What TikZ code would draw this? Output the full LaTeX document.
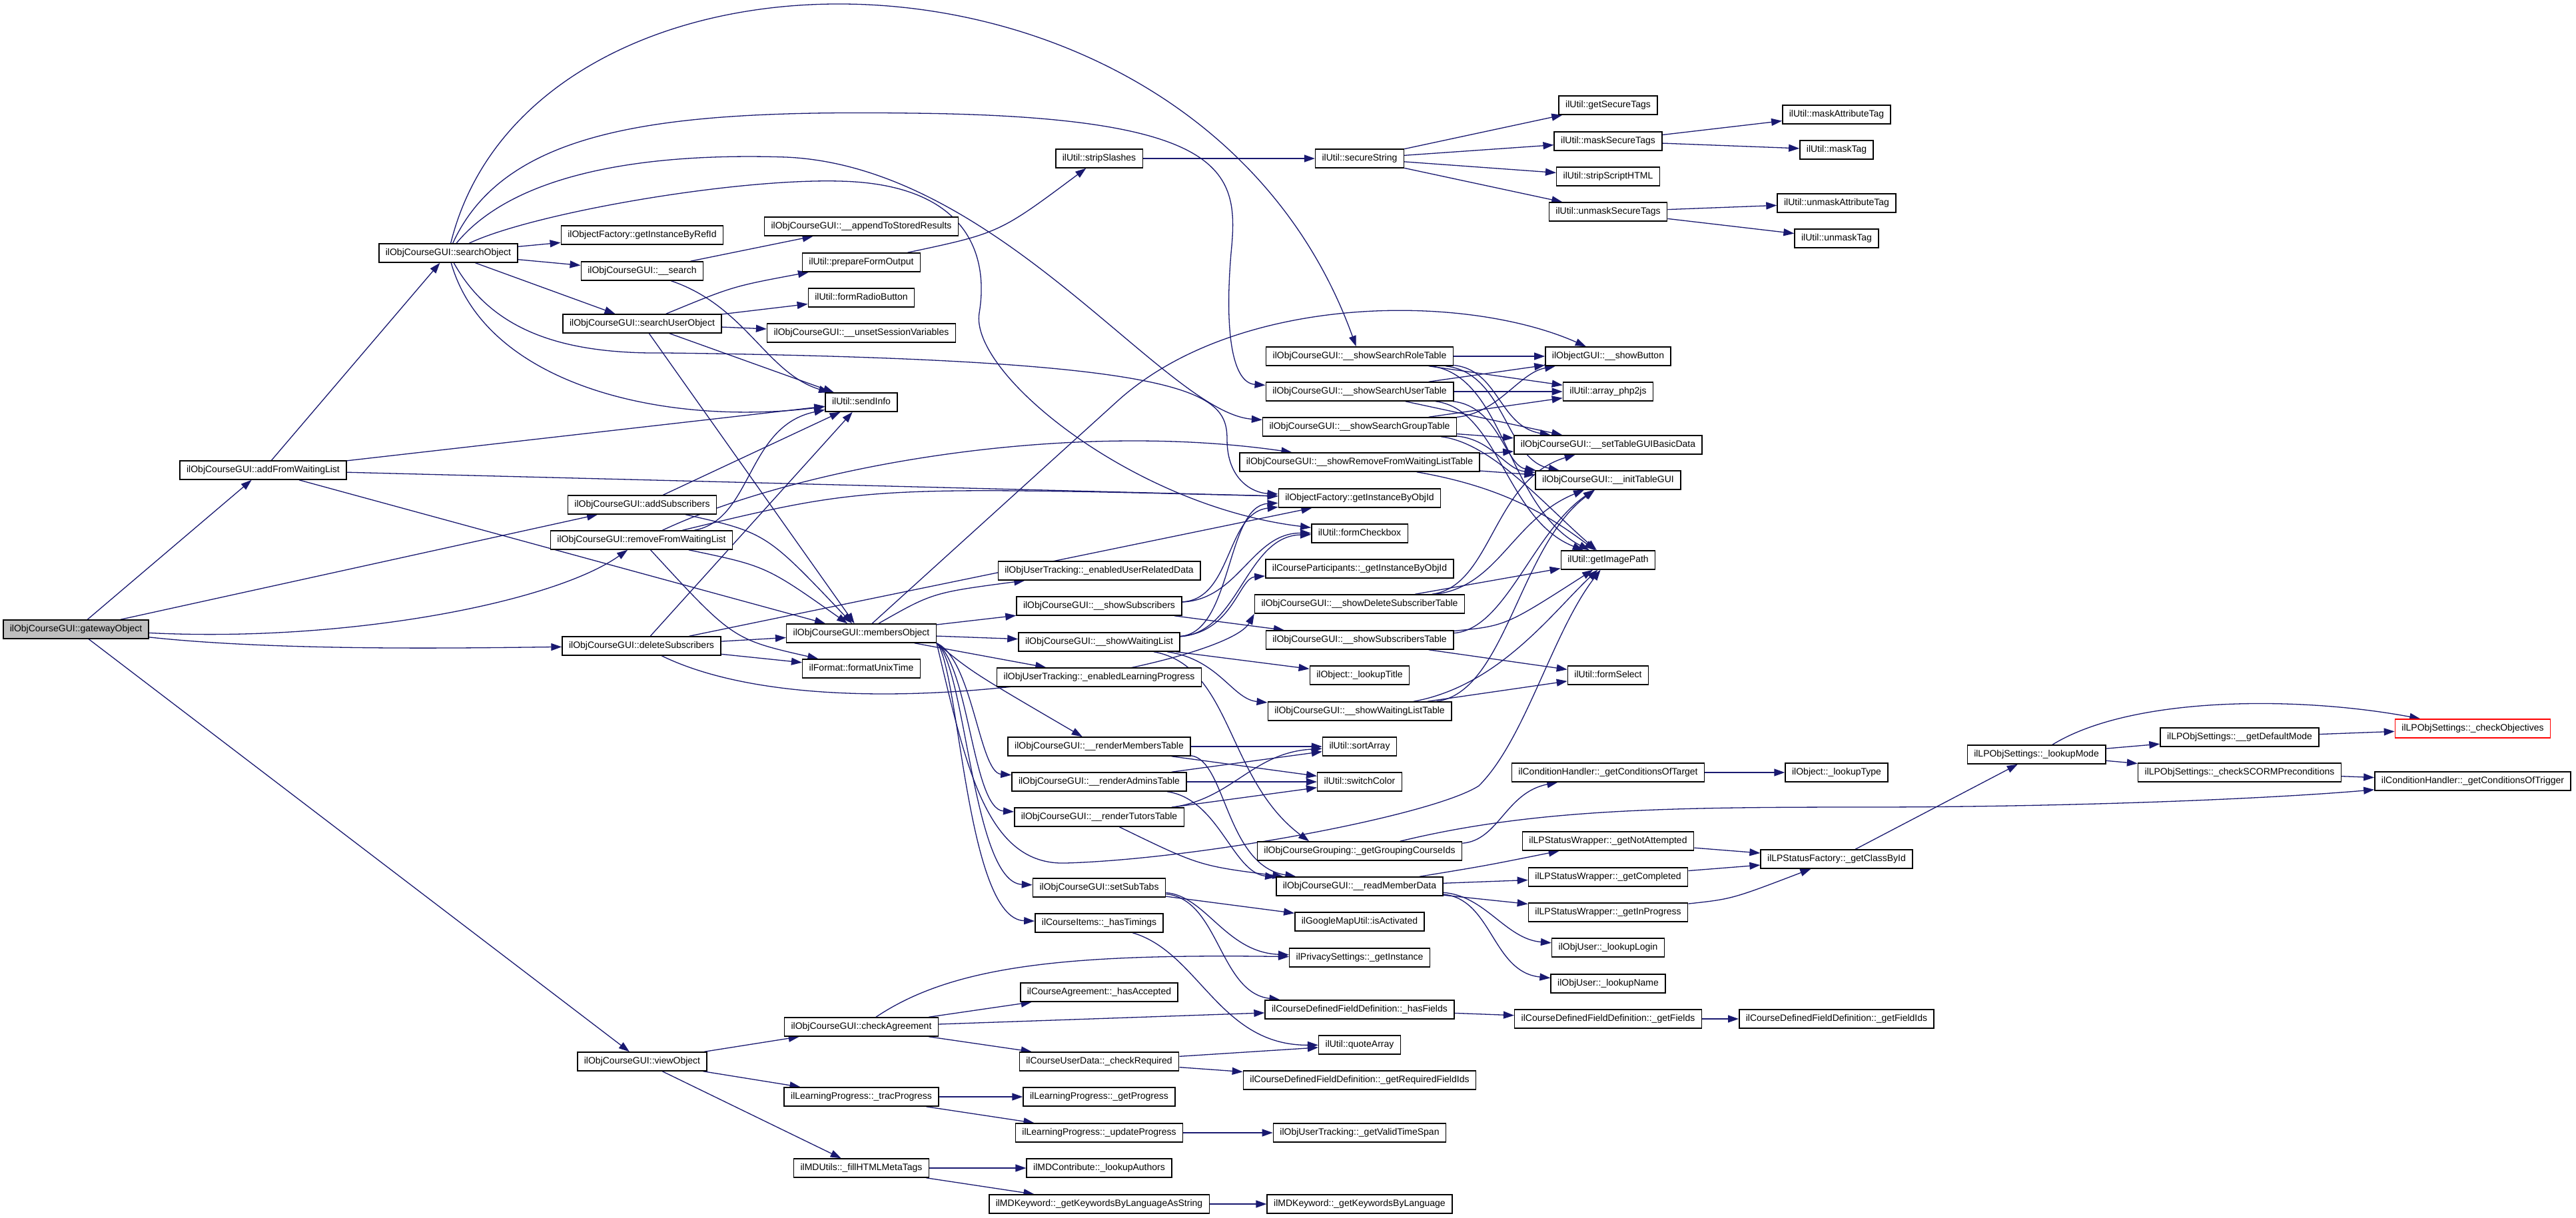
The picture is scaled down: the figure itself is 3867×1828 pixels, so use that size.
\documentclass[tikz,border=0pt]{standalone}
\usepackage{fontspec}
\setmainfont{Liberation Sans}
\usepackage{xcolor}
\usetikzlibrary{arrows.meta, backgrounds}

\definecolor{callblue}{HTML}{191970}
\definecolor{rootgray}{HTML}{BFBFBF}

\begin{document}
\begin{tikzpicture}[x=1pt, y=-1pt,
    fn/.style={draw, line width=1.5pt, fill=white, minimum height=28pt, inner xsep=10pt, inner ysep=0pt,
               text height=10.5pt, text depth=3pt, font=\fontsize{14}{16}\selectfont},
    root/.style={fn, fill=rootgray},
    trunc/.style={fn, draw=red},
    call/.style={draw=callblue, line width=1.3pt, -{Triangle[length=16pt, width=11pt]}}
]
    \useasboundingbox (0,0) rectangle (3867,1828);

    % Caller
    \node[root] (gateway) at (114,945) {ilObjCourseGUI::gatewayObject};

    % Direct calls
    \node[fn] (addWait) at (395,706) {ilObjCourseGUI::addFromWaitingList};
    \node[fn] (searchObj) at (673,380) {ilObjCourseGUI::searchObject};
    \node[fn] (objFactRef) at (964,353) {ilObjectFactory::getInstanceByRefId};
    \node[fn] (search) at (964,407) {ilObjCourseGUI::\_\_search};
    \node[fn] (searchUser) at (964,486) {ilObjCourseGUI::searchUserObject};
    \node[fn] (addSubs) at (964,758) {ilObjCourseGUI::addSubscribers};
    \node[fn] (removeWait) at (963,811) {ilObjCourseGUI::removeFromWaitingList};
    \node[fn] (deleteSubs) at (963,970) {ilObjCourseGUI::deleteSubscribers};
    \node[fn] (viewObj) at (964,1594) {ilObjCourseGUI::viewObject};

    % Column 4
    \node[fn] (appendStored) at (1293,340) {ilObjCourseGUI::\_\_appendToStoredResults};
    \node[fn] (prepareForm) at (1293,394) {ilUtil::prepareFormOutput};
    \node[fn] (radioButton) at (1293,447) {ilUtil::formRadioButton};
    \node[fn] (unsetSession) at (1293,500) {ilObjCourseGUI::\_\_unsetSessionVariables};
    \node[fn] (sendInfo) at (1293,604) {ilUtil::sendInfo};
    \node[fn] (membersObj) at (1293,951) {ilObjCourseGUI::membersObject};
    \node[fn] (formatUnix) at (1293,1004) {ilFormat::formatUnixTime};
    \node[fn] (checkAgree) at (1293,1542) {ilObjCourseGUI::checkAgreement};
    \node[fn] (tracProg) at (1293,1647) {ilLearningProgress::\_tracProgress};
    \node[fn] (fillMeta) at (1293,1754) {ilMDUtils::\_fillHTMLMetaTags};

    % Column 5
    \node[fn] (stripSlashes) at (1650,238) {ilUtil::stripSlashes};
    \node[fn] (userRelated) at (1650,857) {ilObjUserTracking::\_enabledUserRelatedData};
    \node[fn] (showSubs) at (1650,910) {ilObjCourseGUI::\_\_showSubscribers};
    \node[fn] (showWait) at (1650,964) {ilObjCourseGUI::\_\_showWaitingList};
    \node[fn] (learningProg) at (1650,1017) {ilObjUserTracking::\_enabledLearningProgress};
    \node[fn] (renderMembers) at (1650,1121) {ilObjCourseGUI::\_\_renderMembersTable};
    \node[fn] (renderAdmins) at (1650,1174) {ilObjCourseGUI::\_\_renderAdminsTable};
    \node[fn] (renderTutors) at (1650,1227) {ilObjCourseGUI::\_\_renderTutorsTable};
    \node[fn] (setSubTabs) at (1650,1333) {ilObjCourseGUI::setSubTabs};
    \node[fn] (hasTimings) at (1650,1386) {ilCourseItems::\_hasTimings};
    \node[fn] (hasAccepted) at (1650,1490) {ilCourseAgreement::\_hasAccepted};
    \node[fn] (checkRequired) at (1650,1594) {ilCourseUserData::\_checkRequired};
    \node[fn] (getProg) at (1650,1647) {ilLearningProgress::\_getProgress};
    \node[fn] (updateProg) at (1650,1701) {ilLearningProgress::\_updateProgress};
    \node[fn] (lookupAuthors) at (1650,1754) {ilMDContribute::\_lookupAuthors};
    \node[fn] (keywordsStr) at (1650,1808) {ilMDKeyword::\_getKeywordsByLanguageAsString};

    % Column 6
    \node[fn] (secureString) at (2041,238) {ilUtil::secureString};
    \node[fn] (showRoleTab) at (2041,535) {ilObjCourseGUI::\_\_showSearchRoleTable};
    \node[fn] (showUserTab) at (2041,588) {ilObjCourseGUI::\_\_showSearchUserTable};
    \node[fn] (showGroupTab) at (2041,641) {ilObjCourseGUI::\_\_showSearchGroupTable};
    \node[fn] (showRemoveTab) at (2041,694) {ilObjCourseGUI::\_\_showRemoveFromWaitingListTable};
    \node[fn] (objFactObj) at (2041,748) {ilObjectFactory::getInstanceByObjId};
    \node[fn] (formCheckbox) at (2041,801) {ilUtil::formCheckbox};
    \node[fn] (participants) at (2041,854) {ilCourseParticipants::\_getInstanceByObjId};
    \node[fn] (showDelTab) at (2041,907) {ilObjCourseGUI::\_\_showDeleteSubscriberTable};
    \node[fn] (showSubsTab) at (2041,961) {ilObjCourseGUI::\_\_showSubscribersTable};
    \node[fn] (lookupTitle) at (2041,1014) {ilObject::\_lookupTitle};
    \node[fn] (showWaitTab) at (2041,1068) {ilObjCourseGUI::\_\_showWaitingListTable};
    \node[fn] (sortArray) at (2041,1121) {ilUtil::sortArray};
    \node[fn] (switchColor) at (2041,1174) {ilUtil::switchColor};
    \node[fn] (groupingIds) at (2041,1278) {ilObjCourseGrouping::\_getGroupingCourseIds};
    \node[fn] (readMember) at (2041,1331) {ilObjCourseGUI::\_\_readMemberData};
    \node[fn] (mapActive) at (2041,1384) {ilGoogleMapUtil::isActivated};
    \node[fn] (privacy) at (2041,1438) {ilPrivacySettings::\_getInstance};
    \node[fn] (hasFields) at (2041,1516) {ilCourseDefinedFieldDefinition::\_hasFields};
    \node[fn] (quoteArray) at (2041,1569) {ilUtil::quoteArray};
    \node[fn] (reqFieldIds) at (2041,1622) {ilCourseDefinedFieldDefinition::\_getRequiredFieldIds};
    \node[fn] (validTime) at (2041,1701) {ilObjUserTracking::\_getValidTimeSpan};
    \node[fn] (keywordsLang) at (2041,1808) {ilMDKeyword::\_getKeywordsByLanguage};

    % Column 7
    \node[fn] (getSecure) at (2414,158) {ilUtil::getSecureTags};
    \node[fn] (maskSecure) at (2414,212) {ilUtil::maskSecureTags};
    \node[fn] (stripScript) at (2414,265) {ilUtil::stripScriptHTML};
    \node[fn] (unmaskSecure) at (2414,318) {ilUtil::unmaskSecureTags};
    \node[fn] (showButton) at (2414,535) {ilObjectGUI::\_\_showButton};
    \node[fn] (arrayJs) at (2414,588) {ilUtil::array\_php2js};
    \node[fn] (tableBasic) at (2414,668) {ilObjCourseGUI::\_\_setTableGUIBasicData};
    \node[fn] (initTable) at (2414,721) {ilObjCourseGUI::\_\_initTableGUI};
    \node[fn] (imagePath) at (2414,841) {ilUtil::getImagePath};
    \node[fn] (formSelect) at (2414,1014) {ilUtil::formSelect};
    \node[fn] (condTarget) at (2414,1160) {ilConditionHandler::\_getConditionsOfTarget};
    \node[fn] (notAttempted) at (2414,1263) {ilLPStatusWrapper::\_getNotAttempted};
    \node[fn] (completed) at (2414,1317) {ilLPStatusWrapper::\_getCompleted};
    \node[fn] (inProgress) at (2414,1370) {ilLPStatusWrapper::\_getInProgress};
    \node[fn] (lookupLogin) at (2414,1423) {ilObjUser::\_lookupLogin};
    \node[fn] (lookupName) at (2414,1477) {ilObjUser::\_lookupName};
    \node[fn] (getFields) at (2414,1530) {ilCourseDefinedFieldDefinition::\_getFields};

    % Column 8 and beyond
    \node[fn] (maskAttr) at (2757,172) {ilUtil::maskAttributeTag};
    \node[fn] (maskTag) at (2757,225) {ilUtil::maskTag};
    \node[fn] (unmaskAttr) at (2757,305) {ilUtil::unmaskAttributeTag};
    \node[fn] (unmaskTag) at (2757,358) {ilUtil::unmaskTag};
    \node[fn] (lookupType) at (2757,1160) {ilObject::\_lookupType};
    \node[fn] (classById) at (2757,1290) {ilLPStatusFactory::\_getClassById};
    \node[fn] (fieldIds) at (2757,1530) {ilCourseDefinedFieldDefinition::\_getFieldIds};
    \node[fn] (lookupMode) at (3057,1133) {ilLPObjSettings::\_lookupMode};
    \node[fn] (defaultMode) at (3362,1107) {ilLPObjSettings::\_\_getDefaultMode};
    \node[fn] (scormPre) at (3362,1160) {ilLPObjSettings::\_checkSCORMPreconditions};
    \node[trunc] (checkObj) at (3712,1094) {ilLPObjSettings::\_checkObjectives};
    \node[fn] (condTrigger) at (3712,1173) {ilConditionHandler::\_getConditionsOfTrigger};

    \begin{scope}[on background layer]
    \fill[white] (0,0) rectangle (3867,1828);

    % gatewayObject
    \draw[call] (gateway) -- (addWait);
    \draw[call] (gateway) -- (addSubs);
    \draw[call] (gateway) .. controls (520,965) and (830,905) .. (removeWait);
    \draw[call] (gateway) .. controls (420,978) and (700,973) .. (deleteSubs);
    \draw[call] (gateway) -- (viewObj);

    % addFromWaitingList
    \draw[call] (addWait) -- (searchObj);
    \draw[call] (addWait) -- (sendInfo);
    \draw[call] (addWait) -- (objFactObj);
    \draw[call] (addWait) -- (membersObj);

    % searchObject
    \draw[call] (searchObj) -- (objFactRef);
    \draw[call] (searchObj) -- (search);
    \draw[call] (searchObj) -- (searchUser);
    \draw[call] (searchObj) .. controls (800,-135) and (1800,-135) .. (showRoleTab);
    \draw[call] (searchObj) .. controls (760,190) and (1000,165) .. (1370,170)
        .. controls (1850,175) and (1860,260) .. (1848,380)
        .. controls (1838,500) and (1850,575) .. (showUserTab);
    \draw[call] (searchObj) .. controls (780,250) and (1000,230) .. (1180,236)
        .. controls (1500,250) and (1750,620) .. (showGroupTab);
    \draw[call] (searchObj) .. controls (800,320) and (1100,268) .. (1260,272)
        .. controls (1450,276) and (1485,380) .. (1470,470)
        .. controls (1455,560) and (1700,760) .. (formCheckbox);
    \draw[call] (searchObj) .. controls (740,500) and (850,532) .. (1000,530)
        .. controls (1800,540) and (1842,590) .. (1842,660)
        .. controls (1842,720) and (1880,740) .. (objFactObj);
    \draw[call] (searchObj) .. controls (730,580) and (1000,640) .. (sendInfo);

    % __search and searchUserObject
    \draw[call] (search) -- (appendStored);
    \draw[call] (search) .. controls (1120,460) and (1150,560) .. (sendInfo);
    \draw[call] (searchUser) .. controls (1100,430) .. (prepareForm);
    \draw[call] (searchUser) -- (radioButton);
    \draw[call] (searchUser) -- (unsetSession);
    \draw[call] (searchUser) -- (sendInfo);
    \draw[call] (searchUser) -- (membersObj);
    \draw[call] (prepareForm) .. controls (1500,350) .. (stripSlashes);
    \draw[call] (stripSlashes) -- (secureString);

    % secure tags
    \draw[call] (secureString) -- (getSecure);
    \draw[call] (secureString) -- (maskSecure);
    \draw[call] (secureString) -- (stripScript);
    \draw[call] (secureString) -- (unmaskSecure);
    \draw[call] (maskSecure) -- (maskAttr);
    \draw[call] (maskSecure) -- (maskTag);
    \draw[call] (unmaskSecure) -- (unmaskAttr);
    \draw[call] (unmaskSecure) -- (unmaskTag);

    % add / remove / delete
    \draw[call] (addSubs) -- (sendInfo);
    \draw[call] (addSubs) .. controls (1150,800) .. (membersObj);
    \draw[call] (removeWait) .. controls (1130,780) and (1120,640) .. (sendInfo);
    \draw[call] (removeWait) .. controls (1300,730) .. (objFactObj);
    \draw[call] (removeWait) .. controls (1200,700) and (1600,630) .. (showRemoveTab);
    \draw[call] (removeWait) .. controls (1150,850) .. (membersObj);
    \draw[call] (removeWait) .. controls (1100,960) .. (formatUnix);
    \draw[call] (deleteSubs) -- (sendInfo);
    \draw[call] (deleteSubs) -- (objFactObj);
    \draw[call] (deleteSubs) -- (membersObj);
    \draw[call] (deleteSubs) -- (formatUnix);
    \draw[call] (deleteSubs) .. controls (1250,1110) and (1840,1000) .. (showDelTab.south west);

    % membersObject
    \draw[call] (membersObj) -- (1680,600) .. controls (1860,440) and (2200,440) .. (showButton);
    \draw[call] (membersObj) .. controls (1400,890) .. (userRelated);
    \draw[call] (membersObj) -- (showSubs);
    \draw[call] (membersObj) -- (showWait);
    \draw[call] (membersObj) -- (learningProg);
    \draw[call] (membersObj.south east) .. controls (1460,1010) .. (renderMembers);
    \draw[call] (membersObj.south east) .. controls (1460,990) and (1470,1160) .. (renderAdmins);
    \draw[call] (membersObj.south east) .. controls (1455,1000) and (1460,1215) .. (renderTutors);
    \draw[call] (membersObj.south east) .. controls (1450,1000) and (1460,1325) .. (setSubTabs);
    \draw[call] (membersObj.south east) .. controls (1440,1000) and (1450,1380) .. (hasTimings);
    \draw[call] (membersObj.south east) .. controls (1450,1150) and (1480,1300) .. (1600,1296)
        .. controls (1800,1290) and (2150,1225) .. (2220,1180)
        .. controls (2290,1110) and (2330,950) .. (imagePath);

    % __showSubscribers and __showWaitingList
    \draw[call] (showSubs) .. controls (1850,900) and (1840,770) .. (objFactObj);
    \draw[call] (showSubs) .. controls (1860,900) and (1880,800) .. (formCheckbox);
    \draw[call] (showSubs) -- (showSubsTab);
    \draw[call] (showWait) .. controls (1850,950) and (1840,760) .. (objFactObj);
    \draw[call] (showWait) .. controls (1860,950) and (1870,805) .. (formCheckbox);
    \draw[call] (showWait) .. controls (1850,950) and (1860,868) .. (participants);
    \draw[call] (showWait) -- (lookupTitle);
    \draw[call] (showWait) .. controls (1830,990) and (1850,1050) .. (showWaitTab);
    \draw[call] (showWait) .. controls (1850,1000) and (1840,1170) .. (groupingIds.169);

    % table helpers
    \draw[call] (showRoleTab) -- (showButton);
    \draw[call] (showRoleTab) -- (arrayJs);
    \draw[call] (showRoleTab) .. controls (2250,555) and (2250,640) .. (tableBasic);
    \draw[call] (showRoleTab) .. controls (2260,560) and (2260,690) .. (initTable);
    \draw[call] (showRoleTab) .. controls (2260,565) and (2260,760) .. (imagePath);
    \draw[call] (showUserTab) -- (showButton);
    \draw[call] (showUserTab) -- (arrayJs);
    \draw[call] (showUserTab) -- (tableBasic);
    \draw[call] (showUserTab) .. controls (2250,610) and (2260,700) .. (initTable);
    \draw[call] (showUserTab) .. controls (2250,615) and (2260,780) .. (imagePath);
    \draw[call] (showGroupTab) .. controls (2250,620) and (2280,560) .. (showButton);
    \draw[call] (showGroupTab) -- (arrayJs);
    \draw[call] (showGroupTab) -- (tableBasic);
    \draw[call] (showGroupTab) .. controls (2240,660) and (2260,705) .. (initTable);
    \draw[call] (showGroupTab) .. controls (2240,665) and (2320,760) .. (imagePath);
    \draw[call] (showRemoveTab) -- (tableBasic);
    \draw[call] (showRemoveTab) -- (initTable);
    \draw[call] (showRemoveTab) .. controls (2250,730) and (2320,770) .. (imagePath);
    \draw[call] (showDelTab) -- (imagePath);
    \draw[call] (showDelTab) .. controls (2240,880) and (2240,720) .. (tableBasic);
    \draw[call] (showDelTab) .. controls (2250,880) and (2270,780) .. (initTable);
    \draw[call] (showSubsTab) .. controls (2260,940) .. (imagePath);
    \draw[call] (showSubsTab) .. controls (2260,945) and (2300,800) .. (initTable);
    \draw[call] (showSubsTab) -- (formSelect);
    \draw[call] (showWaitTab) -- (formSelect);
    \draw[call] (showWaitTab) .. controls (2260,1040) and (2280,820) .. (initTable);
    \draw[call] (showWaitTab) .. controls (2250,1030) and (2330,920) .. (imagePath);

    % member tables
    \draw[call] (renderMembers) -- (sortArray);
    \draw[call] (renderMembers) -- (switchColor);
    \draw[call] (renderMembers) .. controls (1840,1140) and (1840,1300) .. (readMember);
    \draw[call] (renderAdmins) -- (sortArray);
    \draw[call] (renderAdmins) -- (switchColor);
    \draw[call] (renderAdmins) .. controls (1830,1200) and (1850,1310) .. (readMember);
    \draw[call] (renderTutors) .. controls (1850,1200) and (1880,1130) .. (sortArray);
    \draw[call] (renderTutors) -- (switchColor);
    \draw[call] (renderTutors) .. controls (1800,1300) .. (readMember);

    % member data and learning progress
    \draw[call] (readMember) .. controls (2230,1300) .. (notAttempted);
    \draw[call] (readMember) -- (completed);
    \draw[call] (readMember) -- (inProgress);
    \draw[call] (readMember) .. controls (2230,1345) and (2260,1410) .. (lookupLogin);
    \draw[call] (readMember) .. controls (2240,1350) and (2240,1460) .. (lookupName);
    \draw[call] (notAttempted) -- (classById);
    \draw[call] (completed) -- (classById);
    \draw[call] (inProgress) .. controls (2600,1350) .. (classById);
    \draw[call] (classById) -- (lookupMode);
    \draw[call] (lookupMode) -- (defaultMode);
    \draw[call] (lookupMode) .. controls (3200,1045) and (3450,1045) .. (checkObj);
    \draw[call] (lookupMode) -- (scormPre);
    \draw[call] (defaultMode) -- (checkObj);
    \draw[call] (scormPre) -- (condTrigger);

    % grouping and conditions
    \draw[call] (groupingIds) .. controls (2250,1262) and (2260,1190) .. (condTarget);
    \draw[call] (groupingIds) .. controls (2300,1215) and (2500,1212) .. (2800,1212)
        .. controls (3100,1212) and (3400,1200) .. (condTrigger);
    \draw[call] (condTarget) -- (lookupType);

    % sub tabs, agreement, user data
    \draw[call] (setSubTabs) -- (mapActive);
    \draw[call] (setSubTabs) .. controls (1810,1345) and (1840,1430) .. (privacy);
    \draw[call] (setSubTabs) .. controls (1830,1350) and (1830,1490) .. (hasFields);
    \draw[call] (hasTimings) .. controls (1800,1430) and (1830,1570) .. (quoteArray);
    \draw[call] (checkAgree) .. controls (1430,1450) and (1600,1432) .. (privacy);
    \draw[call] (checkAgree) -- (hasAccepted);
    \draw[call] (checkAgree) -- (hasFields);
    \draw[call] (checkAgree) -- (checkRequired);
    \draw[call] (checkRequired) -- (quoteArray);
    \draw[call] (checkRequired) -- (reqFieldIds);
    \draw[call] (hasFields) -- (getFields);
    \draw[call] (getFields) -- (fieldIds);

    % viewObject
    \draw[call] (viewObj) -- (checkAgree);
    \draw[call] (viewObj) -- (tracProg);
    \draw[call] (viewObj) -- (fillMeta);
    \draw[call] (tracProg) -- (getProg);
    \draw[call] (tracProg) -- (updateProg);
    \draw[call] (updateProg) -- (validTime);
    \draw[call] (fillMeta) -- (lookupAuthors);
    \draw[call] (fillMeta) -- (keywordsStr);
    \draw[call] (keywordsStr) -- (keywordsLang);
    \end{scope}
\end{tikzpicture}
\end{document}
